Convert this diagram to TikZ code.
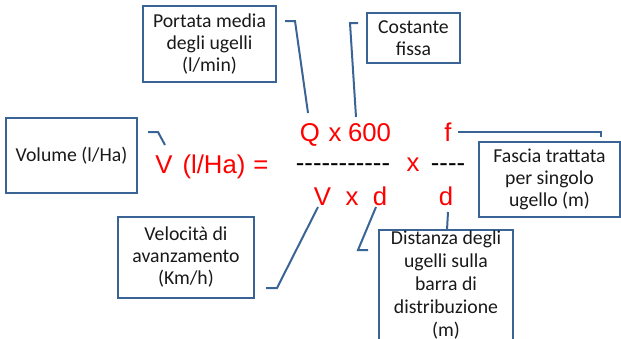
\documentclass[tikz,border=0pt]{standalone}
\usepackage{fontspec}
\setmainfont{Carlito}
\newfontfamily\termfont{Liberation Sans}
\definecolor{boxblue}{HTML}{3B6496}
\definecolor{termred}{HTML}{FF0000}
\tikzset{notebox/.style={rectangle,draw=boxblue,line width=1.5pt,fill=white,align=center,inner sep=0pt,outer sep=0pt,text=black!90,font=\fontsize{14.8}{16.5}\selectfont},term/.style={text=termred,inner sep=0pt,anchor=base,font=\termfont\fontsize{19.3}{22}\selectfont},bar/.style={term,text=black},leader/.style={draw=boxblue,line width=1.5pt}}
\begin{document}
\begin{tikzpicture}[x=0.75pt,y=-0.75pt]
\useasboundingbox (0,0) rectangle (621,339);
\clip (0,0) rectangle (621,339);
% note boxes
\node[notebox,minimum width=99.75pt,minimum height=57pt] (portata) at (209.5,44) {Portata media\\degli ugelli\\(l/min)};
\node[notebox,minimum width=69.75pt,minimum height=37.5pt] (costante) at (413.5,38) {Costante\\fissa};
\node[notebox,minimum width=98.25pt,minimum height=56.25pt] (volume) at (71.5,155.5) {Volume (l/Ha)};
\node[notebox,minimum width=105.75pt,minimum height=56.25pt] (fascia) at (549.5,179.5) {Fascia trattata\\per singolo\\ugello (m)};
\node[notebox,minimum width=102pt,minimum height=60.75pt] (velocita) at (186,257.5) {Velocità di\\avanzamento\\(Km/h)};
\node[notebox,minimum width=100.5pt,minimum height=83.25pt,anchor=north,font=\fontsize{14.8}{17.25}\selectfont] (distanza) at (446,230) {Distanza degli\\ugelli sulla\\barra di\\distribuzione\\(m)};
% formula
\node[term] (Vl) at (164,173) {V};
\node[term] (unit) at (214,173) {(l/Ha)};
\node[term] (eq) at (261,173) {=};
\node[term] (Q) at (310,141) {Q};
\node[term] (qx) at (335,141) {x};
\node[term] (six) at (369.5,141) {600};
\node[term] (f) at (448,141) {f};
\node[bar] (numbar) at (343,171) {-{}-{}-{}-{}-{}-{}-{}-{}-{}-{}-};
\node[term] (mx) at (413,171) {x};
\node[bar] (fbar) at (448,171) {-{}-{}-{}-};
\node[term] (Vb) at (322.5,205) {V};
\node[term] (bx) at (352,205) {x};
\node[term] (db) at (380,205) {d};
\node[term] (dr) at (446,205) {d};
% leaders
\draw[leader] ([shift={(9,-23)}]portata.east) -- ++(10,0) -- ([shift={(-2,-28)}]Q.base);
\draw[leader] ([shift={(-9,-15)}]costante.west) -- ++(-8,0) -- ([shift={(-13.5,-24)}]six.base);
\draw[leader] ([shift={(11,-23.5)}]volume.east) -- ++(10,0) -- ([shift={(1,-28)}]Vl.base);
\draw[leader] ([shift={(10,-9)}]f.base) -- ([shift={(-19,-10)}]fascia.north east) -- ++(0,5);
\draw[leader] ([shift={(12,30.5)}]velocita.east) -- ++(11,0) -- ([shift={(-4.5,2)}]Vb.base);
\draw[leader] ([shift={(-4,2)}]db.base) -- ([shift={(-21,-35.5)}]distanza.west) -- ++(10,0);
\draw[leader] ([shift={(2,7)}]dr.base) -- ([shift={(1,0)}]distanza.north);
\end{tikzpicture}
\end{document}
